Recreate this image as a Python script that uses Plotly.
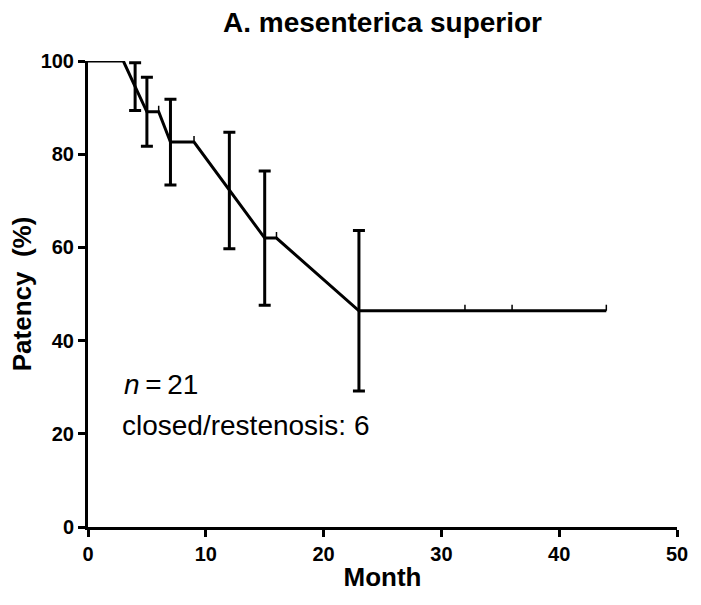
import plotly.graph_objects as go

# Kaplan-Meier style patency curve (points connected)
months = [0, 2, 3, 4, 5, 6, 7, 9, 12, 15, 16, 23, 32, 36, 44]
patency = [100, 100, 100, 94.5, 89.1, 89.1, 82.6, 82.6, 72.2, 62.0, 62.0, 46.4, 46.4, 46.4, 46.4]

# events with standard error bars
event_months = [4, 5, 7, 12, 15, 23]
event_patency = [94.5, 89.1, 82.6, 72.2, 62.0, 46.4]
event_se = [5.1, 7.4, 9.2, 12.5, 14.4, 17.2]

# censored observations (tick marks)
censor_months = [2, 3, 6, 9, 16, 32, 36, 44]
censor_patency = [100, 100, 89.1, 82.6, 62.0, 46.4, 46.4, 46.4]
censor_tick = [1.3] * len(censor_months)

x_ticks = [0, 10, 20, 30, 40, 50]
y_ticks = [0, 20, 40, 60, 80, 100]

FONT = "Liberation Sans, Arial, sans-serif"

fig = go.Figure()

fig.add_trace(go.Scatter(
    x=months, y=patency, mode="lines",
    line=dict(color="black", width=3),
    cliponaxis=False, showlegend=False, hoverinfo="skip",
))

fig.add_trace(go.Scatter(
    x=event_months, y=event_patency, mode="markers",
    marker=dict(size=1, color="rgba(0,0,0,0)"),
    error_y=dict(type="data", array=event_se, visible=True,
                 color="black", thickness=3, width=6),
    cliponaxis=False, showlegend=False, hoverinfo="skip",
))

fig.add_trace(go.Scatter(
    x=censor_months, y=censor_patency, mode="markers",
    marker=dict(size=1, color="rgba(0,0,0,0)"),
    error_y=dict(type="data", symmetric=False, array=censor_tick,
                 arrayminus=[0] * len(censor_months), visible=True,
                 color="black", thickness=1.5, width=0),
    cliponaxis=False, showlegend=False, hoverinfo="skip",
))

fig.add_annotation(
    x=2.9, y=30.5, xref="x", yref="y", xanchor="left", yanchor="middle",
    text="<i>n</i>\u2009=\u200921", showarrow=False,
    font=dict(family=FONT, size=28, color="black"),
)
fig.add_annotation(
    x=2.75, y=21.8, xref="x", yref="y", xanchor="left", yanchor="middle",
    text="closed/restenosis: 6", showarrow=False,
    font=dict(family=FONT, size=28, color="black"),
)

axis_common = dict(
    showline=True, linecolor="black", linewidth=3,
    ticks="outside", ticklen=7, tickwidth=3, tickcolor="black",
    showgrid=False, zeroline=False, automargin=False,
    tickfont=dict(family=FONT, size=20, color="black", weight="bold"),
)

fig.update_layout(
    width=701, height=605,
    margin=dict(l=88, r=24, t=61, b=78),
    paper_bgcolor="white", plot_bgcolor="white",
    title=dict(
        text="<b>A. mesenterica superior</b>",
        x=0.5, xref="paper", xanchor="center",
        y=1 - 22 / 605, yref="container", yanchor="middle",
        font=dict(family=FONT, size=28, color="black"),
    ),
    xaxis=dict(
        range=[0, 50], tickvals=x_ticks, ticktext=[str(v) for v in x_ticks],
        title=dict(text="<b>Month</b>", standoff=4,
                   font=dict(family=FONT, size=26, color="black")),
        **axis_common,
    ),
    yaxis=dict(
        range=[0, 100], tickvals=y_ticks, ticktext=[str(v) for v in y_ticks],
        title=dict(text="<b>Patency  (%)</b>", standoff=2,
                   font=dict(family=FONT, size=26, color="black")),
        **axis_common,
    ),
)

fig.write_html(
    "out.html",
    config={"displayModeBar": False},
    post_script="document.body.style.margin='0';document.body.style.padding='0';",
)
